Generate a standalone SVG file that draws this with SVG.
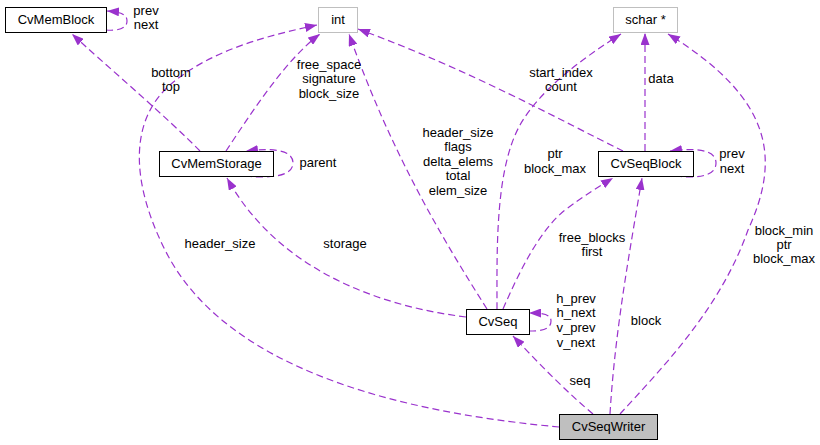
<svg xmlns="http://www.w3.org/2000/svg" width="820" height="445" viewBox="0 0 820 445">
<style>
text{font-family:"Liberation Sans",Arial,sans-serif;font-size:13px;fill:#000;text-anchor:middle}
.n{fill:#fff;stroke:#000;stroke-width:1}
.g{fill:#fff;stroke:#bfbfbf;stroke-width:1}
.w{fill:#bfbfbf;stroke:#000;stroke-width:1}
.e{fill:none;stroke:#9a32cd;stroke-width:1.2;stroke-dasharray:7,4}
</style>
<defs>
<marker id="a" viewBox="0 0 12 9" refX="12" refY="4.5" markerWidth="12" markerHeight="9" markerUnits="userSpaceOnUse" orient="auto">
<path d="M0,0 L12,4.5 L0,9 z" fill="#9a32cd"/>
</marker>
</defs>
<g id="edges">
<path class="e" marker-end="url(#a)" d="M106,30 C117,31 127,29 127,21 C127,15 122,12 107,11"/>
<path class="e" marker-end="url(#a)" d="M200,151 C170,120 100,60 72,34"/>
<path class="e" marker-end="url(#a)" d="M226,151 C250,115 285,60 320,34"/>
<path class="e" marker-end="url(#a)" d="M245,176 C265,178 293,178 293,163 C293,149 270,148 246,151"/>
<path class="e" marker-end="url(#a)" d="M559,427 C430,415 230,380 165,250 C130,180 130,120 170,85 C210,50 270,35 317,25"/>
<path class="e" marker-end="url(#a)" d="M487,309 C440,235 390,150 349,34"/>
<path class="e" marker-end="url(#a)" d="M497,309 C497,250 495,170 520,125 C540,90 580,60 621,34"/>
<path class="e" marker-end="url(#a)" d="M623,151 C560,120 470,70 358,29"/>
<path class="e" marker-end="url(#a)" d="M645,151 L645,33"/>
<path class="e" marker-end="url(#a)" d="M675,176 C693,178 716,178 716,163 C716,149 695,148 670,151"/>
<path class="e" marker-end="url(#a)" d="M466,317 C370,305 275,265 227,178"/>
<path class="e" marker-end="url(#a)" d="M503,309 C520,270 540,230 565,210 C585,195 600,186 613,178"/>
<path class="e" marker-end="url(#a)" d="M529,331 C540,331 551,330 551,321 C551,315 545,313 529,313"/>
<path class="e" marker-end="url(#a)" d="M593,414 C570,395 540,365 513,336"/>
<path class="e" marker-end="url(#a)" d="M610,414 C615,330 630,250 642,178"/>
<path class="e" marker-end="url(#a)" d="M620,414 C660,370 720,310 748,230 C780,160 775,100 668,34"/>
<text x="146" y="15">prev</text>
<text x="146" y="29">next</text>
<text x="171" y="77">bottom</text>
<text x="171" y="91">top</text>
<text x="329" y="69">free_space</text>
<text x="329" y="83">signature</text>
<text x="329" y="98">block_size</text>
<text x="318" y="167">parent</text>
<text x="458" y="137">header_size</text>
<text x="458" y="151">flags</text>
<text x="458" y="166">delta_elems</text>
<text x="458" y="180">total</text>
<text x="458" y="195">elem_size</text>
<text x="561" y="77">start_index</text>
<text x="561" y="91">count</text>
<text x="661" y="83">data</text>
<text x="555" y="158">ptr</text>
<text x="555" y="173">block_max</text>
<text x="732" y="158">prev</text>
<text x="732" y="173">next</text>
<text x="220" y="248">header_size</text>
<text x="345" y="248">storage</text>
<text x="592" y="242">free_blocks</text>
<text x="592" y="256">first</text>
<text x="784" y="235">block_min</text>
<text x="784" y="249">ptr</text>
<text x="784" y="263">block_max</text>
<text x="576" y="303">h_prev</text>
<text x="576" y="317">h_next</text>
<text x="576" y="332">v_prev</text>
<text x="576" y="347">v_next</text>
<text x="646" y="325">block</text>
<text x="580" y="385">seq</text>
</g>
<g id="CvMemBlock"><rect class="n" x="5.5" y="7.5" width="101" height="25"/><text x="56" y="24">CvMemBlock</text></g>
<g id="int"><rect class="g" x="318.5" y="7.5" width="39" height="25"/><text x="338" y="24">int</text></g>
<g id="schar"><rect class="g" x="613.5" y="7.5" width="64" height="25"/><text x="645.5" y="24">schar *</text></g>
<g id="CvMemStorage"><rect class="n" x="159.5" y="151.5" width="114" height="25"/><text x="216.5" y="168">CvMemStorage</text></g>
<g id="CvSeqBlock"><rect class="n" x="598.5" y="151.5" width="95" height="25"/><text x="646" y="168">CvSeqBlock</text></g>
<g id="CvSeq"><rect class="n" x="466.5" y="309.5" width="63" height="25"/><text x="498" y="326">CvSeq</text></g>
<g id="CvSeqWriter"><rect class="w" x="559.5" y="414.5" width="98" height="25"/><text x="608.5" y="431">CvSeqWriter</text></g>
</svg>
